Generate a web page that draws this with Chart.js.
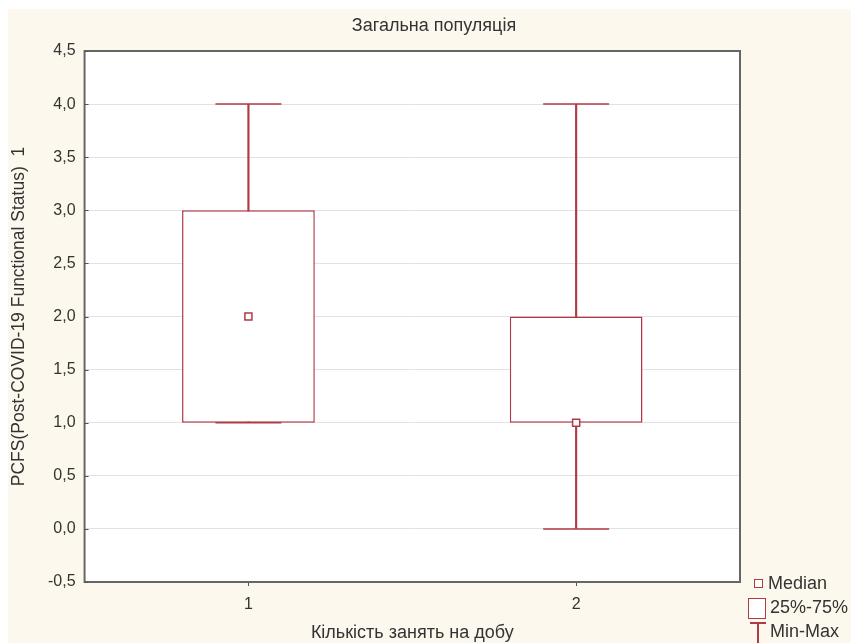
<!DOCTYPE html>
<html>
<head>
<meta charset="utf-8">
<script src="https://cdn.jsdelivr.net/npm/chart.js@4.4.1/dist/chart.umd.min.js"></script>
<style>
    body { margin: 0; background: #fff; }
    #wrap { position: relative; width: 851px; height: 643px; background: #fff; overflow: hidden; }
    #fondo { position: absolute; left: 8px; top: 9px; width: 843px; height: 634px; background: #fdf8ee; }
    canvas { position: absolute; left: 0; top: 0; }
    .leg { position: absolute; font-family: "Liberation Sans", Arial, sans-serif; font-size: 18px; line-height: 20px; color: #333; white-space: nowrap; }
    .ico { position: absolute; box-sizing: border-box; }
    #titulo { position: absolute; left: 334px; width: 200px; top: 15px; text-align: center; font-family: "Liberation Sans", Arial, sans-serif; font-size: 18px; line-height: 20px; color: #333; white-space: nowrap; }
</style>
</head>
<body>
<div id="wrap">
    <div id="fondo"></div>
    <canvas id="grafico" width="851" height="643"></canvas>
    <div id="titulo">Загальна популяція</div>

    <div class="ico" style="left:754px; top:579px; width:9px; height:9px; border:1.5px solid #b03a46; background:#fff;"></div>
    <div class="leg" style="left:768px; top:573px;">Median</div>

    <div class="ico" style="left:748px; top:598px; width:18px; height:21px; border:1.5px solid #b03a46; background:#fff;"></div>
    <div class="leg" style="left:770px; top:597px;">25%-75%</div>

    <div class="ico" style="left:750px; top:622px; width:16px; height:1.5px; background:#b03a46;"></div>
    <div class="ico" style="left:757px; top:622px; width:1.5px; height:21px; background:#b03a46;"></div>
    <div class="leg" style="left:770px; top:621px;">Min-Max</div>
</div>

<script>
const categorias = ["1", "2"];
const minimos = [1, 0];
const q1 = [1, 1];
const medianas = [2, 1];
const q3 = [3, 2];
const maximos = [4, 4];
const yTicks = [-0.5, 0, 0.5, 1, 1.5, 2, 2.5, 3, 3.5, 4, 4.5];

const rojo = "#b03a46";
const fuente = "'Liberation Sans', Arial, sans-serif";

// fondo blanco del área y marco gris
const marco = {
    id: "marco",
    beforeDraw(chart) {
        const a = chart.chartArea;
        const ctx = chart.ctx;
        ctx.save();
        ctx.fillStyle = "#fff";
        ctx.fillRect(a.left, a.top, a.right - a.left, a.bottom - a.top);
        ctx.restore();
    },
    afterDraw(chart) {
        const a = chart.chartArea;
        const ctx = chart.ctx;
        ctx.save();
        ctx.strokeStyle = "#666";
        ctx.lineWidth = 2;
        ctx.strokeRect(a.left, a.top, a.right - a.left, a.bottom - a.top);
        // marcas cortas del eje y hacia adentro
        const y = chart.scales.y;
        ctx.lineWidth = 1;
        ctx.strokeStyle = "#555";
        yTicks.forEach((v) => {
            const py = Math.round(y.getPixelForValue(v)) + 0.5;
            ctx.beginPath();
            ctx.moveTo(a.left, py);
            ctx.lineTo(a.left + 4, py);
            ctx.stroke();
        });
        ctx.restore();
    },
};

new Chart(document.getElementById("grafico"), {
    data: {
        labels: categorias,
        datasets: [
            {
                type: "line",
                label: "Median",
                data: medianas,
                showLine: false,
                pointStyle: "rect",
                pointRadius: 5,
                pointBackgroundColor: "#fff",
                pointBorderColor: rojo,
                pointBorderWidth: 1.5,
                order: 0,
            },
            {
                type: "line",
                label: "Max",
                data: maximos,
                showLine: false,
                pointStyle: "line",
                pointRadius: 33,
                pointBorderColor: rojo,
                pointBorderWidth: 1.5,
                order: 1,
            },
            {
                type: "line",
                label: "Min",
                data: minimos,
                showLine: false,
                pointStyle: "line",
                pointRadius: 33,
                pointBorderColor: rojo,
                pointBorderWidth: 1.5,
                order: 1,
            },
            {
                type: "bar",
                label: "25%-75%",
                data: q1.map((v, i) => [v, q3[i]]),
                backgroundColor: "#fff",
                borderColor: rojo,
                borderWidth: 1.5,
                borderSkipped: false,
                grouped: false,
                categoryPercentage: 1,
                barPercentage: 0.405,
                order: 2,
            },
            {
                type: "bar",
                label: "Min-Max",
                data: minimos.map((v, i) => [v, maximos[i]]),
                backgroundColor: rojo,
                borderWidth: 0,
                grouped: false,
                barThickness: 1.5,
                order: 3,
            },
        ],
    },
    options: {
        responsive: false,
        animation: false,
        layout: { padding: { left: 9, right: 111, top: 51, bottom: 0 } },
        scales: {
            x: {
                type: "category",
                offset: true,
                border: { display: false },
                grid: { drawOnChartArea: false, drawTicks: true, tickLength: 4, offset: false, color: "#555" },
                ticks: { font: { family: fuente, size: 16 }, color: "#333", padding: 9 },
                title: {
                    display: true,
                    text: "Кількість занять на добу",
                    font: { family: fuente, size: 18, lineHeight: 1.1 },
                    color: "#333",
                    padding: { top: 0, bottom: 0 },
                },
            },
            y: {
                min: -0.5,
                max: 4.5,
                border: { display: false },
                grid: { color: "#e2e2e2", drawTicks: false },
                afterBuildTicks: (scale) => {
                    scale.ticks = yTicks.map((v) => ({ value: v }));
                },
                ticks: {
                    font: { family: fuente, size: 16 },
                    color: "#333",
                    padding: 9,
                    callback: (value) => value.toFixed(1).replace(".", ","),
                },
                title: {
                    display: true,
                    text: "PCFS(Post-COVID-19 Functional Status)  1",
                    font: { family: fuente, size: 17.5 },
                    color: "#333",
                    padding: { top: 0, bottom: 9 },
                },
            },
        },
        plugins: {
            legend: { display: false },
            tooltip: { enabled: false },
            title: { display: false },
        },
    },
    plugins: [marco],
});
</script>
</body>
</html>
